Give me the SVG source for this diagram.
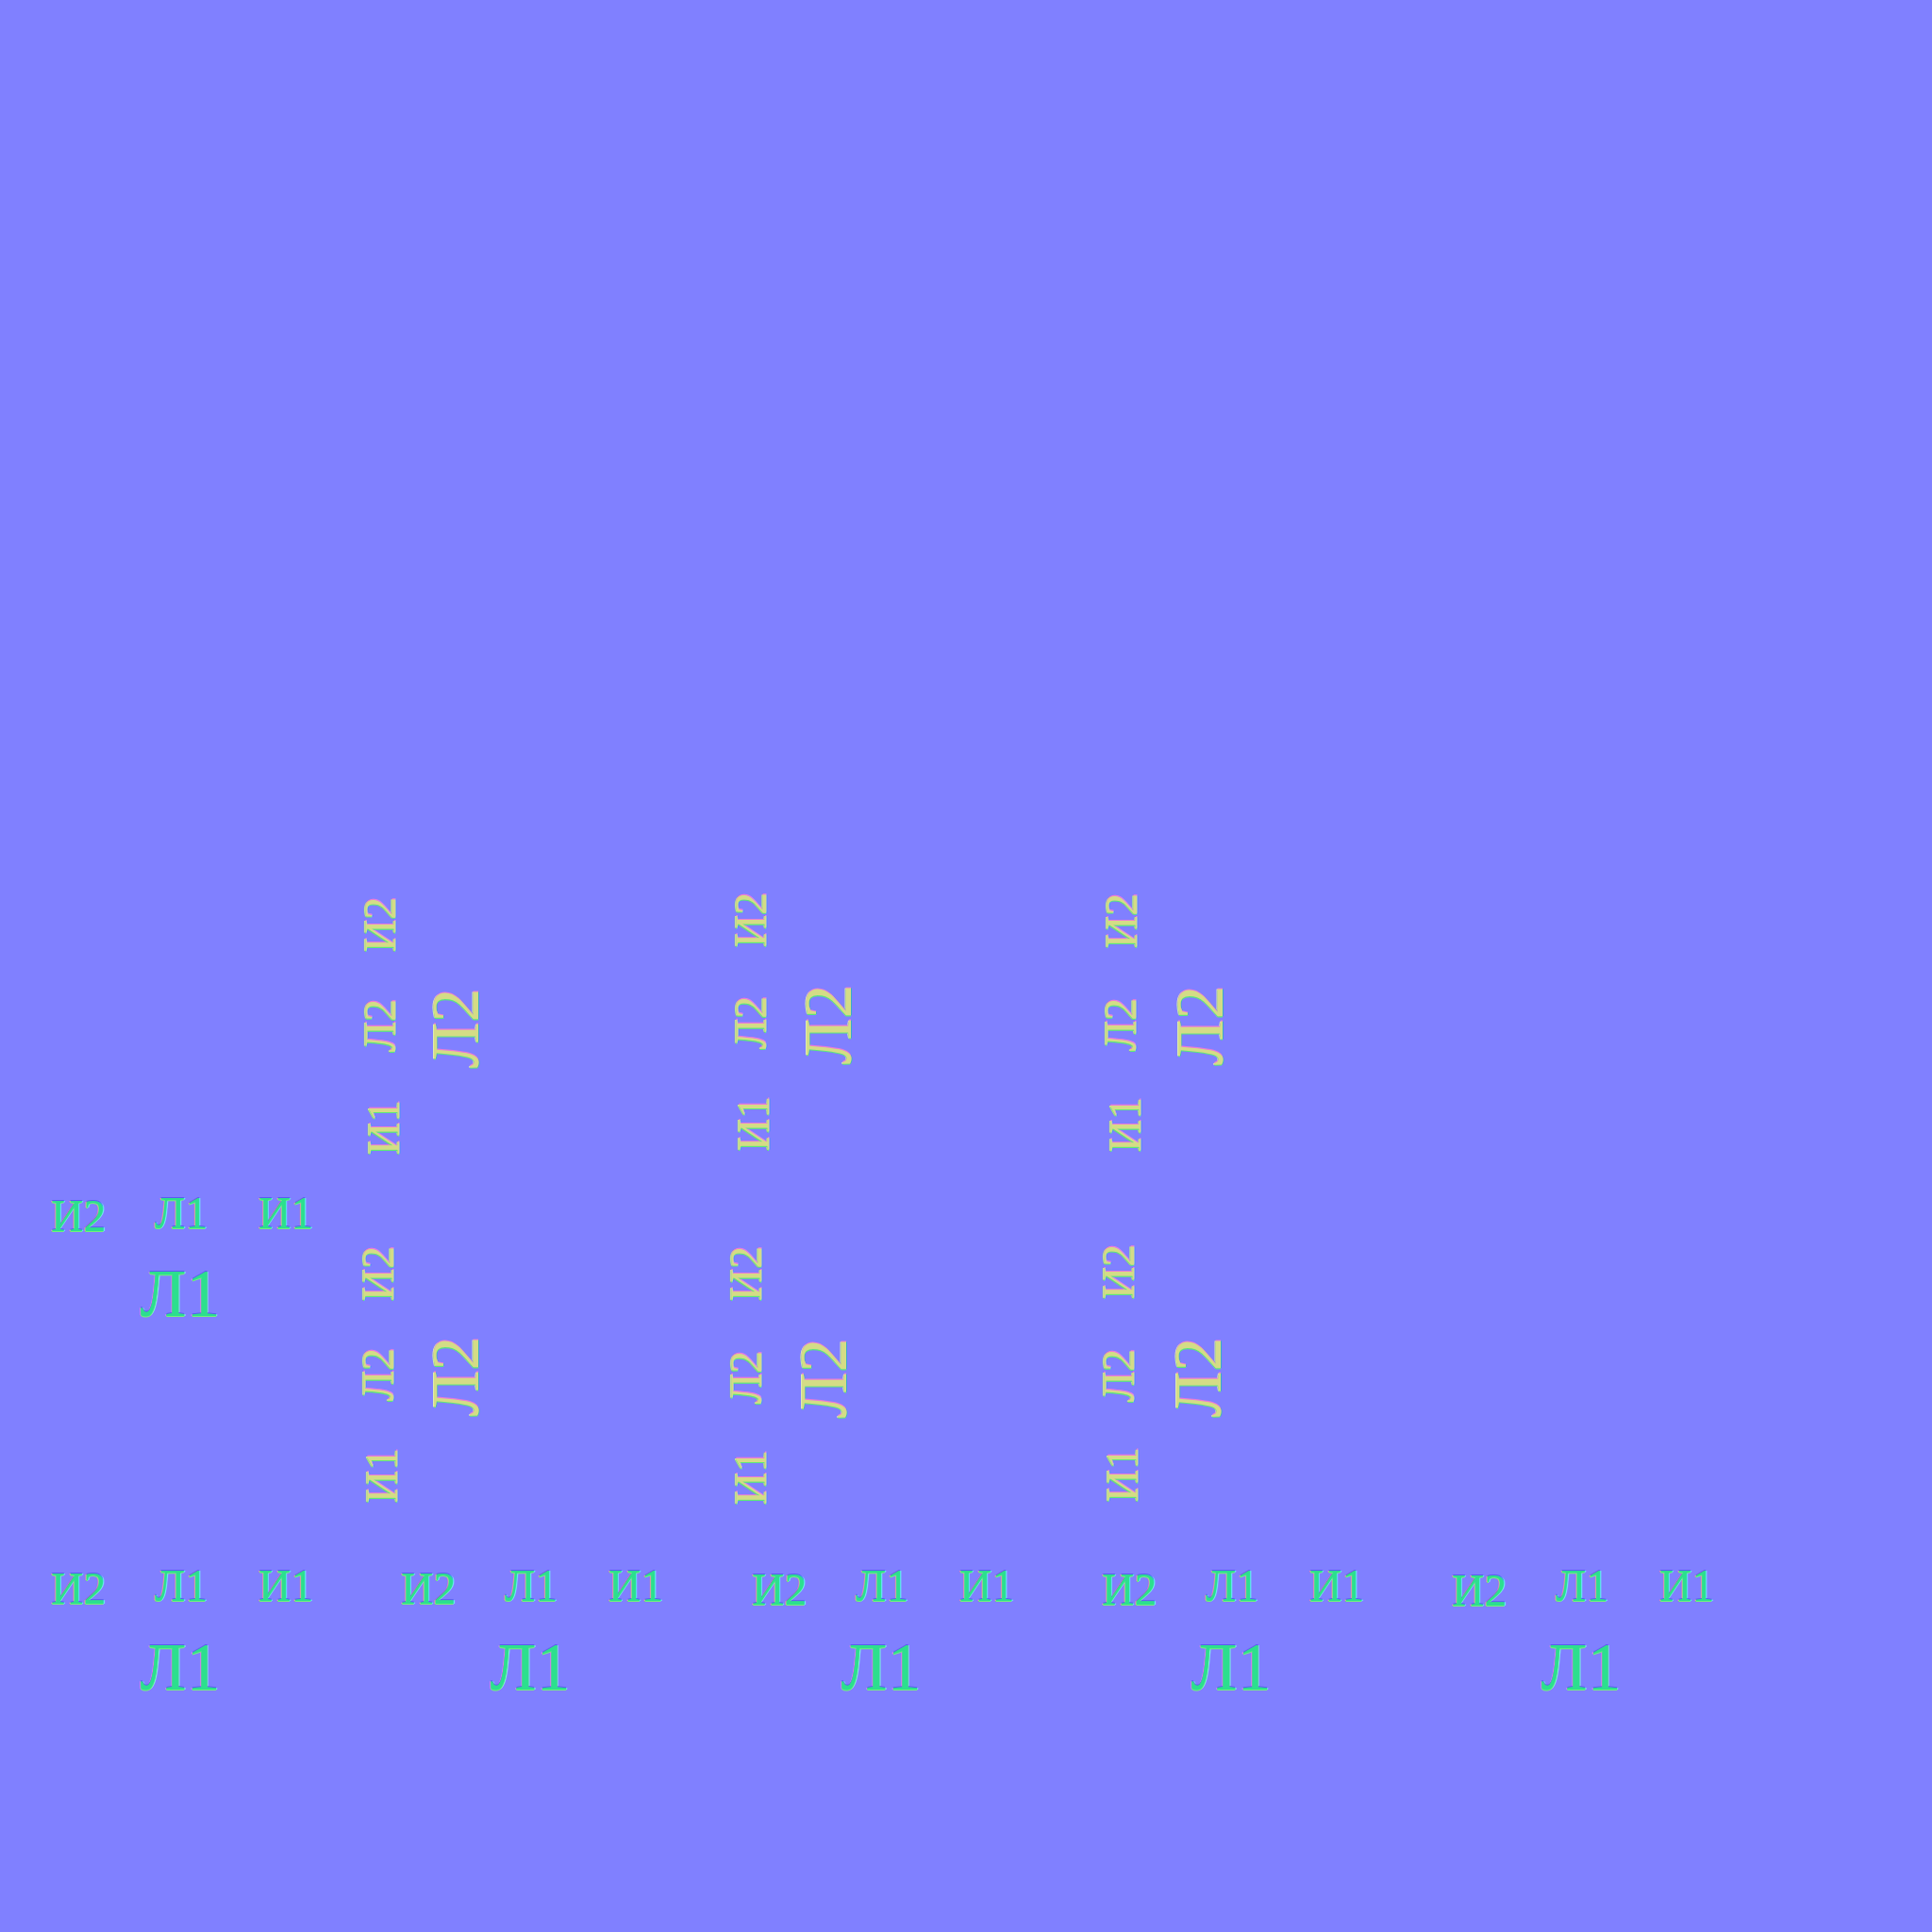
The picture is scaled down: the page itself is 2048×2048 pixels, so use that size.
<svg xmlns="http://www.w3.org/2000/svg" xmlns:xlink="http://www.w3.org/1999/xlink" width="2048" height="2048" viewBox="0 0 2048 2048">
<style>
  text { font-family: "Liberation Serif", "Times New Roman", serif; text-anchor: middle; }
  .s { font-size: 48px; }
  .b { font-size: 72px; }
  .h { fill: var(--h, #2cdf8e); }
  .v { fill: var(--v, #d4dc86); }
  .eL { --h: #e07ee8; --v: #dcecb0; }
  .eR { --h: #7ef0e6; --v: #3aaac8; }
  .eT { --h: #5a5af2; --v: #ea7ad8; }
  .eB { --h: #74f07a; --v: #5ae87a; }
</style>
<rect width="2048" height="2048" fill="#8080ff"/>
<g id="relief">
  <use xlink:href="#labels" class="eL" transform="translate(-1.2,0)"/>
  <use xlink:href="#labels" class="eR" transform="translate(1.2,0)"/>
  <use xlink:href="#labels" class="eT" transform="translate(0,-1.2)"/>
  <use xlink:href="#labels" class="eB" transform="translate(0,1.2)"/>
</g>
<g id="labels">
  <g id="h-a">
    <text class="h s" x="83" y="1305">И2</text>
    <text class="h s" x="192" y="1302">Л1</text>
    <text class="h s" x="303" y="1302">И1</text>
    <text class="h b" x="191" y="1395">Л1</text>
  </g>
  <g id="h-1">
    <text class="h s" x="83" y="1700">И2</text>
    <text class="h s" x="192" y="1697">Л1</text>
    <text class="h s" x="303" y="1697">И1</text>
    <text class="h b" x="191" y="1791">Л1</text>
  </g>
  <g id="h-2">
    <text class="h s" x="454" y="1700">И2</text>
    <text class="h s" x="563" y="1697">Л1</text>
    <text class="h s" x="674" y="1697">И1</text>
    <text class="h b" x="562" y="1791">Л1</text>
  </g>
  <g id="h-3">
    <text class="h s" x="826" y="1701">И2</text>
    <text class="h s" x="935" y="1697">Л1</text>
    <text class="h s" x="1046" y="1697">И1</text>
    <text class="h b" x="934" y="1791">Л1</text>
  </g>
  <g id="h-4">
    <text class="h s" x="1197" y="1701">И2</text>
    <text class="h s" x="1306" y="1697">Л1</text>
    <text class="h s" x="1417" y="1697">И1</text>
    <text class="h b" x="1305" y="1791">Л1</text>
  </g>
  <g id="h-5">
    <text class="h s" x="1568" y="1702">И2</text>
    <text class="h s" x="1677" y="1697">Л1</text>
    <text class="h s" x="1788" y="1697">И1</text>
    <text class="h b" x="1676" y="1791">Л1</text>
  </g>
  <g id="v-1-upper">
    <text class="v s" transform="translate(419,980) rotate(-90)">И2</text>
    <text class="v s" transform="translate(419,1087) rotate(-90)">Л2</text>
    <text class="v s" transform="translate(423,1195) rotate(-90)">И1</text>
    <text class="v b" transform="translate(507,1090) rotate(-90)">Л2</text>
  </g>
  <g id="v-2-upper">
    <text class="v s" transform="translate(812,975) rotate(-90)">И2</text>
    <text class="v s" transform="translate(812,1084) rotate(-90)">Л2</text>
    <text class="v s" transform="translate(815,1191) rotate(-90)">И1</text>
    <text class="v b" transform="translate(902,1086) rotate(-90)">Л2</text>
  </g>
  <g id="v-3-upper">
    <text class="v s" transform="translate(1205,976) rotate(-90)">И2</text>
    <text class="v s" transform="translate(1204,1086) rotate(-90)">Л2</text>
    <text class="v s" transform="translate(1209,1192) rotate(-90)">И1</text>
    <text class="v b" transform="translate(1296,1087) rotate(-90)">Л2</text>
  </g>
  <g id="v-1-lower">
    <text class="v s" transform="translate(417,1350) rotate(-90)">И2</text>
    <text class="v s" transform="translate(417,1457) rotate(-90)">Л2</text>
    <text class="v s" transform="translate(421,1564) rotate(-90)">И1</text>
    <text class="v b" transform="translate(507,1459) rotate(-90)">Л2</text>
  </g>
  <g id="v-2-lower">
    <text class="v s" transform="translate(807,1350) rotate(-90)">И2</text>
    <text class="v s" transform="translate(807,1460) rotate(-90)">Л2</text>
    <text class="v s" transform="translate(812,1566) rotate(-90)">И1</text>
    <text class="v b" transform="translate(897,1461) rotate(-90)">Л2</text>
  </g>
  <g id="v-3-lower">
    <text class="v s" transform="translate(1202,1348) rotate(-90)">И2</text>
    <text class="v s" transform="translate(1202,1458) rotate(-90)">Л2</text>
    <text class="v s" transform="translate(1206,1563) rotate(-90)">И1</text>
    <text class="v b" transform="translate(1294,1460) rotate(-90)">Л2</text>
  </g>
</g>
</svg>
